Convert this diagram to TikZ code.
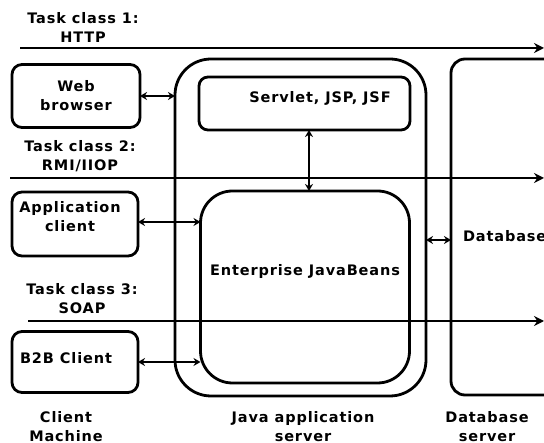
\documentclass[tikz,border=0pt]{standalone}
\usepackage{fontspec}
\setmainfont{DejaVu Sans}[LetterSpace=6]
\usetikzlibrary{arrows.meta,calc}
\begin{document}
\begin{tikzpicture}[x=1pt,y=-1pt,
  every node/.style={font=\fontsize{14.5}{19}\selectfont\bfseries, inner sep=0pt, outer sep=0pt},
  box/.style={draw, line width=2.8pt, rounded corners=#1},
  box/.default=10pt,
  lbl/.style={align=center},
  flow/.style={line width=2.8pt, -{Stealth[length=10pt,width=10pt]}},
  dbl/.style={line width=2.4pt, {Stealth[length=7pt,width=8pt]}-{Stealth[length=7pt,width=8pt]}}]
\useasboundingbox (0,0) rectangle (544,443);
\clip (0,0) rectangle (544,443);
% task class lines
\coordinate (t1s) at (20,48);  \coordinate (t1e) at (544,48);
\coordinate (t2s) at (10,178); \coordinate (t2e) at (544,178);
\coordinate (t3s) at (28,321); \coordinate (t3e) at (544,321);
\node[lbl] (t1) at (83,27) {Task class 1:\\HTTP};
\node[lbl] (t2) at (80,156) {Task class 2:\\RMI/IIOP};
\node[lbl] (t3) at (82,299) {Task class 3:\\SOAP};
\draw[flow] (t1s) -- (t1e);
\draw[flow] (t2s) -- (t2e);
\draw[flow] (t3s) -- (t3e);
% client boxes
\node[box, minimum width=128pt, minimum height=63pt] (wb) at (76,96) {};
\node[lbl] (wbt) at (76,96) {Web\\browser};
\node[box, minimum width=126pt, minimum height=64pt] (ac) at (75,224) {};
\node[lbl] (act) at (70,217) {Application\\client};
\node[box, minimum width=126pt, minimum height=61pt] (b2b) at (75,362) {};
\node (b2bt) at (66,358) {B2B Client};
% java application server
\node[box=36pt, minimum width=251pt, minimum height=337pt] (jas) at (300.5,227.5) {};
\node[box=9pt, minimum width=211pt, minimum height=53pt] (sv) at (304.5,103.5) {};
\node (svt) at (320,98) {Servlet, JSP, JSF};
\node[box=32pt, minimum width=209pt, minimum height=192pt] (ejb) at (305,287) {};
\node (ejbt) at (305,272) {Enterprise JavaBeans};
% database
\node[box=14pt, minimum width=140pt, minimum height=336pt] (db) at (521,227) {};
\node[anchor=west] (dbt) at (463,236) {Database};
% connectors
\draw[dbl] (wb.east) -- (wb.east -| jas.west);
\draw[dbl] ([yshift=2pt]ac.east) -- ([yshift=2pt]ac.east -| ejb.west);
\draw[dbl] (b2b.east) -- (b2b.east -| ejb.west);
\draw[dbl] ([xshift=4.5pt]sv.south) -- ([xshift=4.5pt]sv.south |- ejb.north);
\coordinate (dbc) at (0,240);
\draw[dbl] (jas.east |- dbc) -- (db.west |- dbc);
% bottom labels
\node[lbl] (cm) at (66,427) {Client\\Machine};
\node[lbl] (jast) at (303,427) {Java application\\server};
\node[lbl] (dbs) at (487,427) {Database\\server};
\end{tikzpicture}
\end{document}
